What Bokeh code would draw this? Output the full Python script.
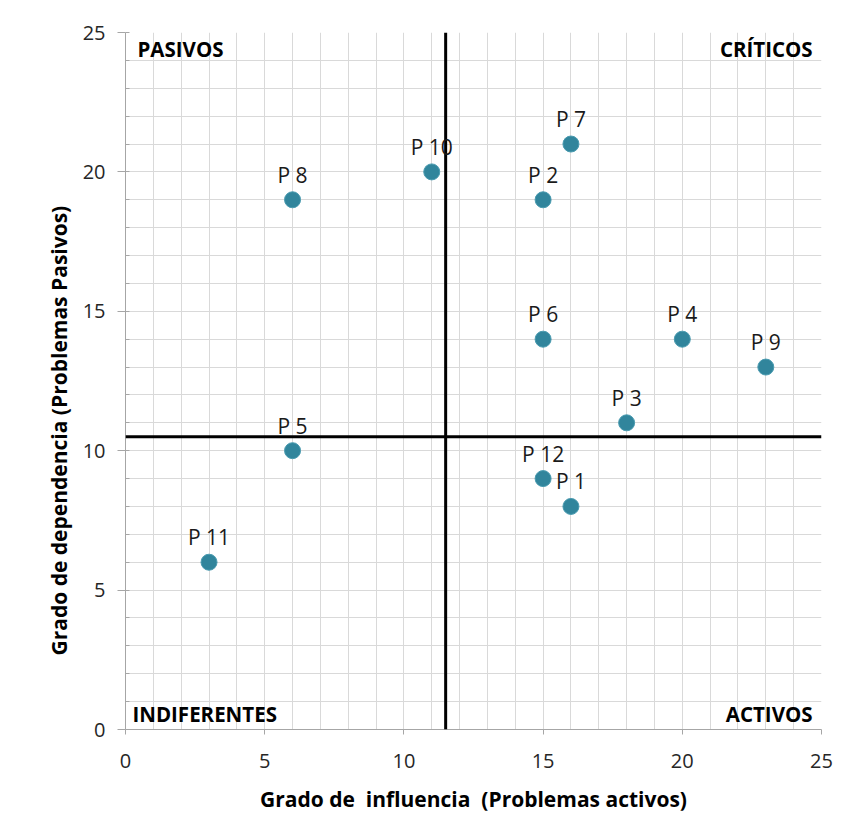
from bokeh.plotting import figure
from bokeh.models import ColumnDataSource, LabelSet, Label, FixedTicker, Span, Title
from bokeh.core.properties import value
from bokeh.embed import file_html
from bokeh.resources import INLINE

names = ["P 1", "P 2", "P 3", "P 4", "P 5", "P 6", "P 7", "P 8", "P 9", "P 10", "P 11", "P 12"]
influencia = [16, 15, 18, 20, 6, 15, 16, 6, 23, 11, 3, 15]
dependencia = [8, 19, 11, 14, 10, 14, 21, 19, 13, 20, 6, 9]
x_ticks = [0, 5, 10, 15, 20, 25]
y_ticks = [0, 5, 10, 15, 20, 25]
grid_ticks = list(range(0, 26))
x_cut = 11.5
y_cut = 10.5
quadrants = ["PASIVOS", "CRÍTICOS", "INDIFERENTES", "ACTIVOS"]
x_title = "Grado de\u00a0 influencia\u00a0 (Problemas activos)"
y_title = "Grado de dependencia (Problemas Pasivos)"

FONT = "Open Sans"

p = figure(width=844, height=819, output_backend="svg", toolbar_location=None,
           x_range=(0, 25), y_range=(0, 25),
           min_border_left=125, min_border_right=23, min_border_top=32, min_border_bottom=90,
           frame_width=696, frame_height=697)
p.outline_line_color = None
p.background_fill_color = "white"
p.border_fill_color = "white"

# grid
for g in (p.xgrid[0], p.ygrid[0]):
    g.ticker = FixedTicker(ticks=grid_ticks)
    g.grid_line_color = "#d9d9d9"
    g.grid_line_width = 1

# axes
p.xaxis.ticker = FixedTicker(ticks=x_ticks)
p.yaxis.ticker = FixedTicker(ticks=y_ticks, minor_ticks=grid_ticks)
for ax in (p.xaxis[0], p.yaxis[0]):
    ax.axis_line_color = "#a6a6a6"
    ax.major_tick_line_color = "#a6a6a6"
    ax.minor_tick_line_color = "#a6a6a6"
    ax.major_label_text_font = FONT
    ax.major_label_text_font_size = "20px"
    ax.major_label_text_color = "#262626"
    ax.axis_label_text_font = FONT
    ax.axis_label_text_font_style = "bold"
    ax.axis_label_text_font_size = "21px"
    ax.axis_label_text_color = "#000000"
p.xaxis.major_tick_out = 5
p.xaxis.major_tick_in = 0
p.xaxis.minor_tick_out = 0
p.xaxis.minor_tick_in = 0
p.xaxis.major_label_standoff = 19
p.xaxis.axis_label = x_title
p.xaxis.axis_label_standoff = 14
p.yaxis.major_tick_out = 8
p.yaxis.major_tick_in = 0
p.yaxis.minor_tick_out = 0
p.yaxis.minor_tick_in = 4
p.yaxis.major_label_standoff = 12

# y-axis title (placed off-centre, as in the original)
p.add_layout(Title(text=y_title, align="left", offset=74, standoff=14,
                   text_font=FONT, text_font_style="bold", text_font_size="21px",
                   text_color="black"), "left")

# quadrant lines
p.add_layout(Span(location=x_cut, dimension="height", line_color="black", line_width=3))
p.add_layout(Span(location=y_cut, dimension="width", line_color="black", line_width=3))

src = ColumnDataSource(dict(x=influencia, y=dependencia, name=names))
p.scatter("x", "y", source=src, size=16, fill_color="#31859c", line_color="#4a9bb0", line_width=1)

labels = LabelSet(x="x", y="y", text="name", source=src, text_align="center",
                  text_baseline="alphabetic", y_offset=17, text_font=value(FONT),
                  text_font_size=value("21px"), text_color="#1a1a1a")
p.add_layout(labels)

qstyle = dict(text_font=FONT, text_font_style="bold", text_font_size="20.5px",
              text_color="black", text_baseline="middle")
p.add_layout(Label(x=0.43, y=24.4, text=quadrants[0], text_align="left", **qstyle))
p.add_layout(Label(x=24.68, y=24.4, text=quadrants[1], text_align="right", **qstyle))
p.add_layout(Label(x=0.25, y=0.55, text=quadrants[2], text_align="left", **qstyle))
p.add_layout(Label(x=24.68, y=0.55, text=quadrants[3], text_align="right", **qstyle))

open("out.html", "w").write(file_html(p, INLINE))
